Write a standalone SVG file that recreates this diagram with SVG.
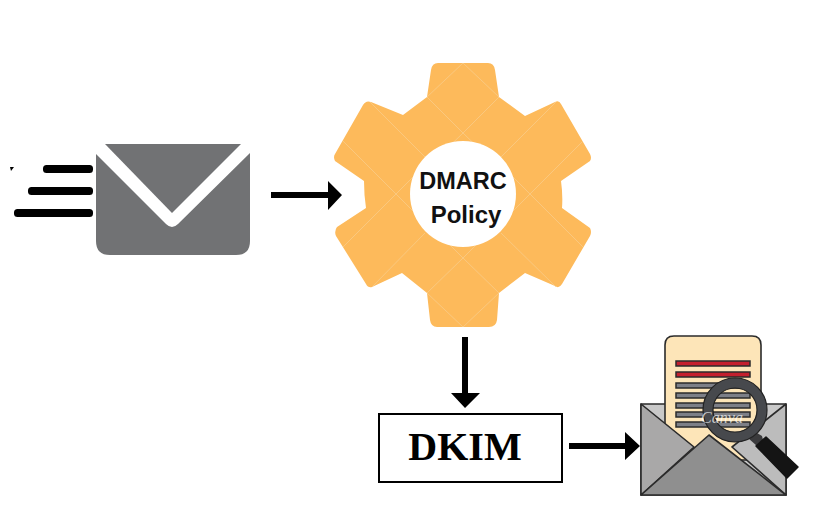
<svg xmlns="http://www.w3.org/2000/svg" width="828" height="510" viewBox="0 0 828 510">
<style>
.ar{fill:#000}
.wm{fill:none;stroke:#f8cf8f;stroke-width:.7}
.dk{stroke:#2b2b2b;stroke-width:1.6;stroke-linejoin:round}
.ln{fill:#7d7f87;stroke:#2b2b2b;stroke-width:1.5}
.rd{fill:#c4202e;stroke:#2b2b2b;stroke-width:1.5}
.sp{fill:#000}
.lab{font-family:"Liberation Sans",Arial,sans-serif;font-weight:700;fill:#111}
</style>
<rect width="828" height="510" fill="#fff"/>
<g id="sender">
<rect class="sp" x="43" y="165" width="50" height="8" rx="3.5"/>
<rect class="sp" x="28" y="187" width="65" height="8" rx="3.5"/>
<rect class="sp" x="14" y="209" width="79" height="8" rx="3.5"/>
<path class="sp" d="M10 167h4l-3 4z"/>
<path fill="#717274" d="M105 144H241L172 213Z"/>
<path fill="#717274" d="M96 154L166 224Q172 230 178 224L250 153V241Q250 255 236 255H110Q96 255 96 241Z"/>
</g>
<g id="dmarc">
<path fill="#fdba5b" d="M431 70Q432 63 438 63H488Q494 63 495 70L499 97L525 116L555 102Q559 100 561 104L590 154Q592 158 590 161L561 181Q563 195 562 208L590 228Q592 232 590 236L562 284Q559 289 555 286L525 273L499 293L497 320Q496 327 489 327H437Q431 327 430 320L427 293L402 273L372 287Q368 288 366 284L336 236Q334 231 337 227L366 208Q364 195 364 181L335 161Q333 157 335 154L363 105Q366 100 371 102L403 115L427 97Z"/>
<path class="wm" d="M463 63L427 97L463 133L499 97ZM370 102L425 157M556 102L501 157M463 133L430 165M463 133L496 165M343 141L431 229M583 141L495 229M343 247L431 159M583 247L495 159M463 258L430 225M463 258L496 225M372 287L425 233M556 287L501 233M463 258L427 293L463 327M463 258L499 293L463 327"/>
<circle cx="463" cy="194" r="53" fill="#fff"/>
<text class="lab" x="463" y="189" text-anchor="middle" font-size="23.5">DMARC</text>
<text class="lab" x="466" y="223" text-anchor="middle" font-size="24">Policy</text>
</g>
<g id="dkim">
<rect x="379" y="414" width="183" height="68" fill="#fff" stroke="#000" stroke-width="2"/>
<text x="465" y="460" text-anchor="middle" font-family="'Liberation Serif','Times New Roman',serif" font-weight="700" font-size="40" fill="#000">DKIM</text>
</g>
<g id="report">
<path class="dk" fill="#c9c9c9" d="M641 404H786V495H641Z"/>
<path class="dk" fill="#fde5b8" d="M665 345Q665 336 674 336H752Q761 336 761 345V460H665Z"/>
<rect class="rd" x="676" y="361" width="74" height="5"/>
<rect class="rd" x="676" y="372" width="74" height="5"/>
<rect class="ln" x="676" y="383" width="74" height="5"/>
<rect class="ln" x="676" y="393" width="74" height="5"/>
<rect class="ln" x="676" y="403" width="74" height="5"/>
<rect class="ln" x="676" y="412" width="74" height="5"/>
<rect class="ln" x="676" y="422" width="74" height="5"/>
<path class="dk" fill="#a9a8a8" d="M641 404L694 447L641 495Z"/>
<path class="dk" fill="#bcbcbc" d="M786 404L732 447L786 495Z"/>
<path class="dk" fill="#8f8f8f" d="M641 495L709 435L786 495Z"/>
<path fill="#3a3a3c" d="M752 430L762 436L764 444L757 446L748 438Z"/>
<path fill="#141414" stroke="#141414" stroke-width="1.5" stroke-linejoin="round" d="M766 437L798 467L787 478L756 446Z"/>
<circle cx="735" cy="410" r="27" fill="none" stroke="#47494d" stroke-width="10"/>
<circle cx="735" cy="410" r="32" fill="none" stroke="#222" stroke-width="1.2"/>
<circle cx="735" cy="410" r="22" fill="none" stroke="#222" stroke-width="1.2"/>
<text x="722" y="423" text-anchor="middle" font-family="'Liberation Serif',serif" font-style="italic" font-size="16" fill="#fff" fill-opacity=".7">Canva</text>
</g>
<g id="connectors">
<path class="ar" d="M271 192H328V181L342 195L328 210V198H271Z"/>
<path class="ar" d="M462 337H468V393H480L465 408L451 393H462Z"/>
<path class="ar" d="M569 443H625V432L640 446L625 460V449H569Z"/>
</g>
</svg>
